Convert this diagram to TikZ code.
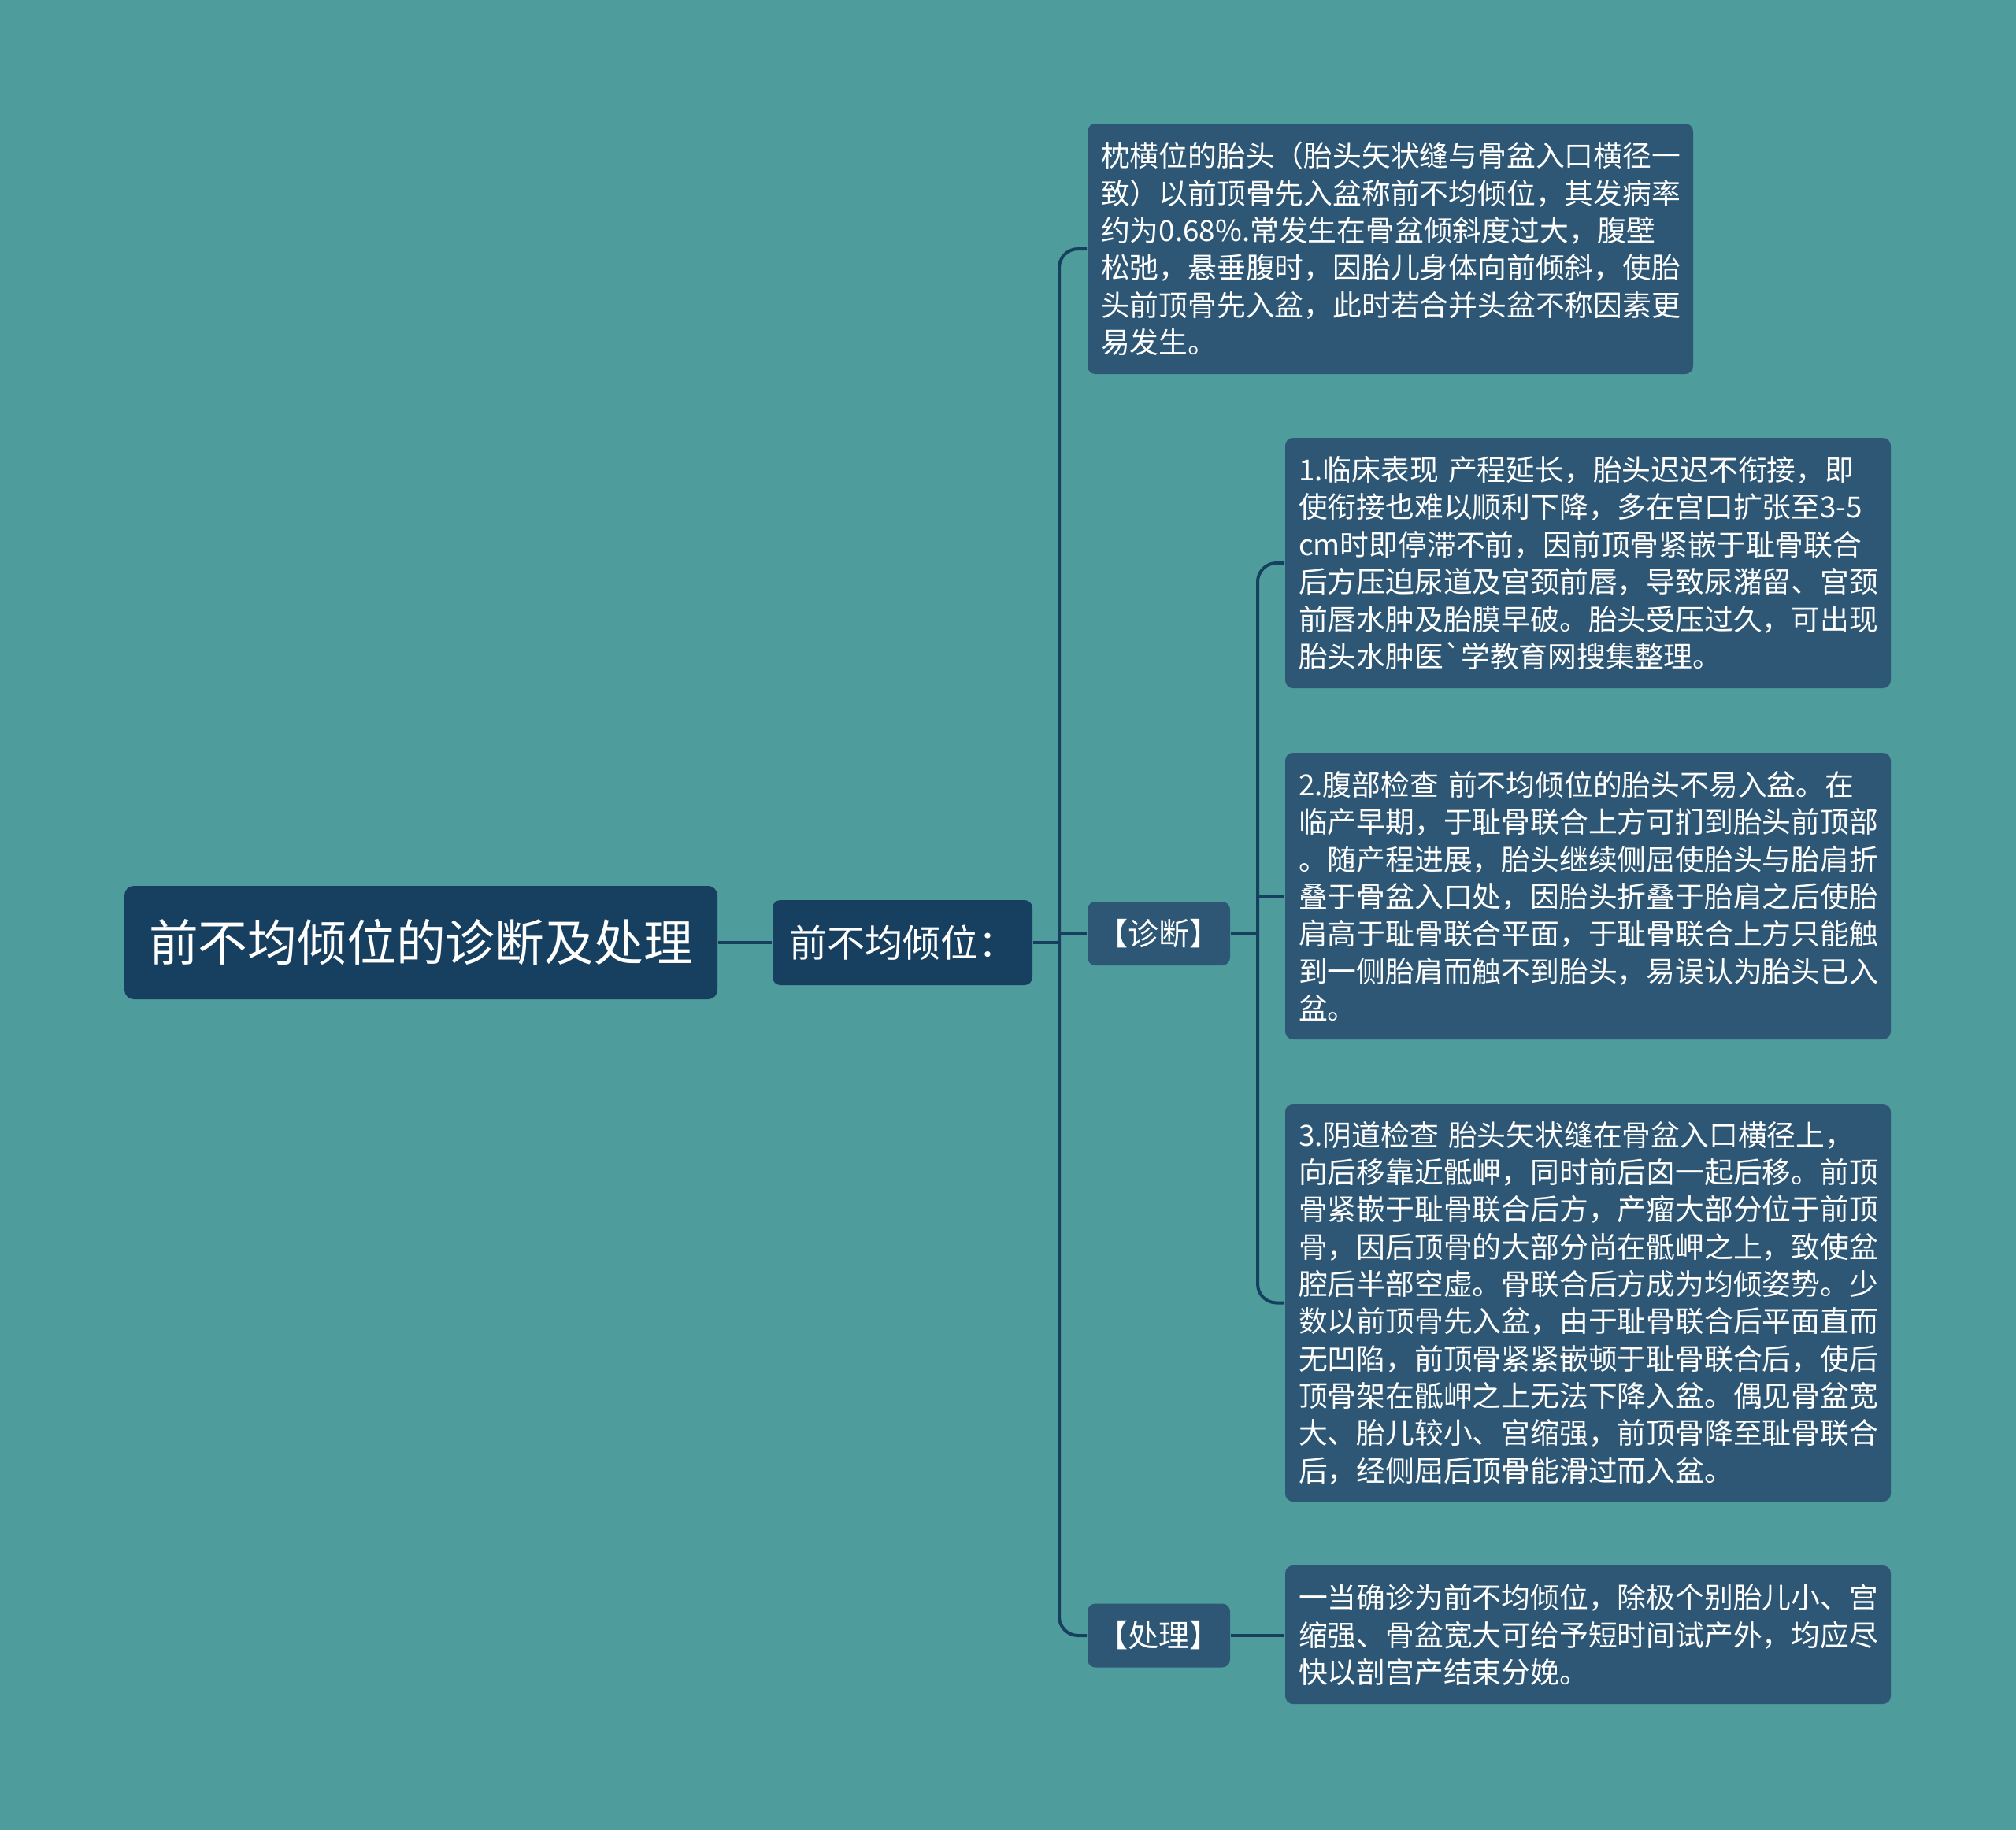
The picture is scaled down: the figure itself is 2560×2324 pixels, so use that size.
\documentclass[tikz,border=0pt]{standalone}
\usepackage{fontspec}
\newfontfamily\cjk{Noto Sans CJK SC}
\definecolor{bgteal}{HTML}{4E9D9C}
\definecolor{rootblue}{HTML}{173F5F}
\definecolor{leafblue}{HTML}{2E5775}
\definecolor{linkblue}{HTML}{173F5F}
\tikzset{
	rootbox/.style={fill=rootblue, text=white, rounded corners=3pt, inner sep=0pt,
		minimum width=188.25pt, minimum height=36pt, font=\cjk\fontsize{15.7}{18}\selectfont},
	subbox/.style={fill=rootblue, text=white, rounded corners=2.5pt, inner sep=0pt,
		minimum width=82.5pt, minimum height=27pt, font=\cjk\fontsize{12}{14}\selectfont},
	catbox/.style={fill=leafblue, text=white, rounded corners=2.5pt, inner sep=0pt,
		minimum width=45.25pt, minimum height=20.25pt, font=\cjk\fontsize{9.8}{11}\selectfont},
	textbox/.style={fill=leafblue, text=white, rounded corners=2.5pt, align=left,
		text width=183.75pt, inner xsep=4.25pt, inner ysep=0pt, font=\cjk\fontsize{9.2}{11.84}\selectfont},
	link/.style={draw=linkblue, line width=1pt},
}
\begin{document}
\begin{tikzpicture}[x=0.25pt, y=-0.25pt]
		\fill[bgteal] (0,0) rectangle (2560,2324);
		\useasboundingbox (0,0) rectangle (2560,2324);
		% main nodes
		\node[rootbox] (root) at (534.5,1197) {前不均倾位的诊断及处理};
		\node[subbox] (sub) at (1146,1197) {前不均倾位：};
		\node[textbox, minimum height=79.5pt] (top) at (1765.5,316) {枕横位的胎头（胎头矢状缝与骨盆入口横径一\\致）以前顶骨先入盆称前不均倾位，其发病率\\约为0.68\%.常发生在骨盆倾斜度过大，腹壁\\松弛，悬垂腹时，因胎儿身体向前倾斜，使胎\\头前顶骨先入盆，此时若合并头盆不称因素更\\易发生。};
		\node[catbox] (zd) at (1471.5,1185.5) {【诊断】};
		\node[catbox] (cl) at (1471.5,2077) {【处理】};
		% leaves
		\node[textbox, minimum height=79.5pt] (d1) at (2016.5,715) {1.临床表现 产程延长，胎头迟迟不衔接，即\\使衔接也难以顺利下降，多在宫口扩张至3-5\\cm时即停滞不前，因前顶骨紧嵌于耻骨联合\\后方压迫尿道及宫颈前唇，导致尿潴留、宫颈\\前唇水肿及胎膜早破。胎头受压过久，可出现\\胎头水肿医`学教育网搜集整理。};
		\node[textbox, minimum height=91pt] (d2) at (2016.5,1138) {2.腹部检查 前不均倾位的胎头不易入盆。在\\临产早期，于耻骨联合上方可扪到胎头前顶部\\。随产程进展，胎头继续侧屈使胎头与胎肩折\\叠于骨盆入口处，因胎头折叠于胎肩之后使胎\\肩高于耻骨联合平面，于耻骨联合上方只能触\\到一侧胎肩而触不到胎头，易误认为胎头已入\\盆。};
		\node[textbox, minimum height=126.25pt] (d3) at (2016.5,1654.5) {3.阴道检查 胎头矢状缝在骨盆入口横径上，\\向后移靠近骶岬，同时前后囟一起后移。前顶\\骨紧嵌于耻骨联合后方，产瘤大部分位于前顶\\骨，因后顶骨的大部分尚在骶岬之上，致使盆\\腔后半部空虚。骨联合后方成为均倾姿势。少\\数以前顶骨先入盆，由于耻骨联合后平面直而\\无凹陷，前顶骨紧紧嵌顿于耻骨联合后，使后\\顶骨架在骶岬之上无法下降入盆。偶见骨盆宽\\大、胎儿较小、宫缩强，前顶骨降至耻骨联合\\后，经侧屈后顶骨能滑过而入盆。};
		\node[textbox, minimum height=44pt] (t1) at (2016.5,2076) {一当确诊为前不均倾位，除极个别胎儿小、宫\\缩强、骨盆宽大可给予短时间试产外，均应尽\\快以剖宫产结束分娩。};
		% connectors
		\coordinate (j1) at (1345,1197);
		\coordinate (j2) at (1597,1185.5);
		\draw[link] (root.east) -- (sub.west);
		\draw[link] (sub.east) -- (j1);
		\draw[link, rounded corners=6pt] (top.west) -| (j1) |- (cl.west);
		\draw[link] (j1 |- zd.west) -- (zd.west);
		\draw[link] (zd.east) -- (j2);
		\draw[link, rounded corners=6pt] (d1.west) -| (j2) |- (d3.west);
		\draw[link] (j2 |- d2.west) -- (d2.west);
		\draw[link] (cl.east) -- (cl.east -| t1.west);
	\end{tikzpicture}
\end{document}
